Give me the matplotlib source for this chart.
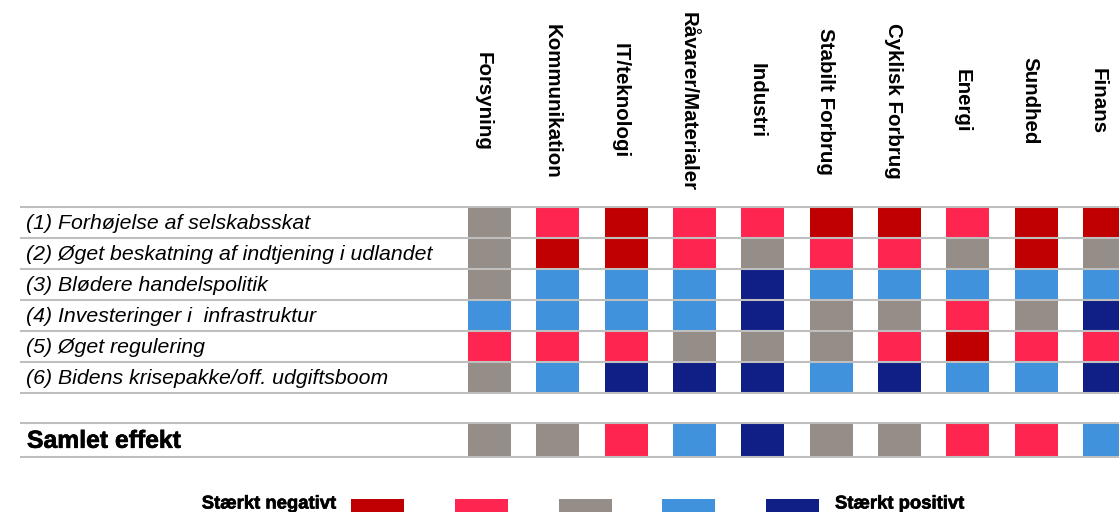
import numpy as np
import matplotlib
matplotlib.use("Agg")
import matplotlib.pyplot as plt
import matplotlib.patheffects as pe

plt.rcParams['font.family'] = ['Liberation Sans', 'DejaVu Sans']

# Sectors (columns) and policy factors (rows)
sectors = ["Forsyning", "Kommunikation", "IT/teknologi", "Råvarer/Materialer",
           "Industri", "Stabilt Forbrug", "Cyklisk Forbrug", "Energi",
           "Sundhed", "Finans"]
factors = ["(1) Forhøjelse af selskabsskat",
           "(2) Øget beskatning af indtjening i udlandet",
           "(3) Blødere handelspolitik",
           "(4) Investeringer i  infrastruktur",
           "(5) Øget regulering",
           "(6) Bidens krisepakke/off. udgiftsboom"]

# Effect scores: -2 = stærkt negativt ... +2 = stærkt positivt
effect_1 = [0, -1, -2, -1, -1, -2, -2, -1, -2, -2]
effect_2 = [0, -2, -2, -1, 0, -1, -1, 0, -2, 0]
effect_3 = [0, 1, 1, 1, 2, 1, 1, 1, 1, 1]
effect_4 = [1, 1, 1, 1, 2, 0, 0, -1, 0, 2]
effect_5 = [-1, -1, -1, 0, 0, 0, -1, -2, -1, -1]
effect_6 = [0, 1, 2, 2, 2, 1, 2, 1, 1, 2]
total_label = "Samlet effekt"
total_effect = [0, 0, -1, 1, 2, 0, 0, -1, -1, 1]

scale_levels = [-2, -1, 0, 1, 2]
scale_labels = ["Stærkt negativt", "", "", "", "Stærkt positivt"]

palette = {-2: "#C00000", -1: "#FF2551", 0: "#958D87", 1: "#4192DC", 2: "#101F86"}
line_color = "#BFBFBF"
heavy = [pe.withStroke(linewidth=0.45, foreground="black")]

W, H = 1119, 512
fig = plt.figure(figsize=(W / 100, H / 100), dpi=100)
ax = fig.add_axes([0, 0, 1, 1])
ax.set_xlim(0, W)
ax.set_ylim(H, 0)
ax.axis("off")

# Layout (pixel units of the canvas)
col_left0, col_pitch, cell_w = 468.0, 68.33, 43.0
row_top0, row_h = 207.3, 30.9
tot_top, tot_h = 423.3, 34.0
line_x0 = 20.0

matrix = [effect_1, effect_2, effect_3, effect_4, effect_5, effect_6]
n_cols = len(sectors)
col_x = col_left0 + col_pitch * np.arange(n_cols)
col_c = col_x + cell_w / 2

# Factor rows
for r, (label, row) in enumerate(zip(factors, matrix)):
    top = row_top0 + r * row_h
    ax.bar(col_x, [row_h] * n_cols, bottom=top, width=cell_w, align="edge",
           color=[palette[v] for v in row], linewidth=0, zorder=1)
    ax.text(26, top + row_h / 2 + 1, label, fontsize=15.3, style="italic",
            ha="left", va="center", color="black")

row_lines = row_top0 + row_h * np.arange(len(matrix) + 1)
ax.hlines(row_lines, line_x0, W, color=line_color, linewidth=1.5, zorder=3)

# Total row
ax.bar(col_x, [tot_h] * n_cols, bottom=tot_top, width=cell_w, align="edge",
       color=[palette[v] for v in total_effect], linewidth=0, zorder=1)
ax.hlines([tot_top, tot_top + tot_h], line_x0, W, color=line_color,
          linewidth=1.5, zorder=3)
ax.text(27, tot_top + tot_h / 2 + 0.5, total_label, fontsize=17.8,
        fontweight="bold", ha="left", va="center", color="black",
        path_effects=heavy)

# Column headers
for x, name in zip(col_c, sectors):
    ax.text(x - 6, 101, name, rotation=270, fontsize=14.8, fontweight="bold",
            ha="center", va="center", color="black")

# Colour scale legend
leg_x0, leg_pitch, leg_w = 351.0, 103.75, 53.0
leg_x = leg_x0 + leg_pitch * np.arange(len(scale_levels))
ax.bar(leg_x, [16] * len(scale_levels), bottom=499, width=leg_w, align="edge",
       color=[palette[v] for v in scale_levels], linewidth=0, zorder=1)
ax.text(leg_x[0] - 15, 504, scale_labels[0], fontsize=13.3, fontweight="bold",
        ha="right", va="center", path_effects=heavy)
ax.text(leg_x[-1] + leg_w + 16, 504, scale_labels[-1], fontsize=13.3,
        fontweight="bold", ha="left", va="center", path_effects=heavy)

fig.savefig("out.png", dpi=100)
